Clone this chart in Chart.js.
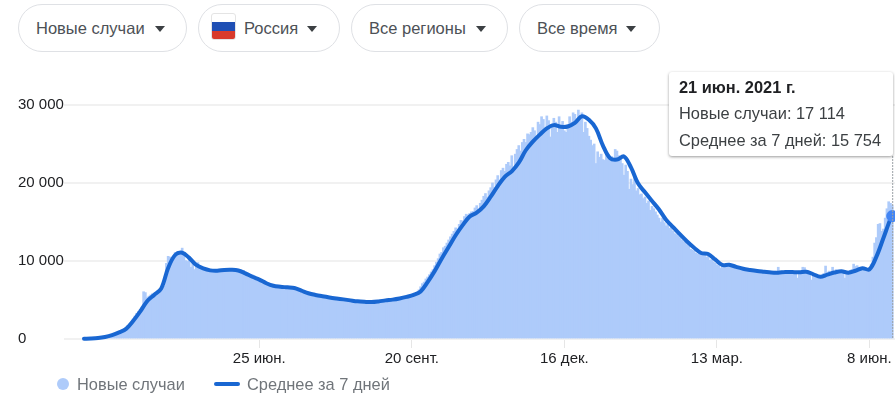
<!DOCTYPE html>
<html lang="ru">
<head>
<meta charset="utf-8">
<title>Новые случаи</title>
<script src="https://cdn.jsdelivr.net/npm/chart.js@4"></script>
<style>
    html, body { margin: 0; padding: 0; background: #fff; overflow: hidden; }
    body { width: 895px; height: 402px; position: relative; font-family: "Liberation Sans", Arial, sans-serif; }
    canvas { position: absolute; left: 0; top: 0; }
    .pill { position: absolute; top: 4px; height: 46px; border: 1px solid #dfe1e5; border-radius: 24px; box-sizing: content-box;
        color: #4d5156; font-size: 16.5px; line-height: 46px; white-space: nowrap; }
    .pill span { position: absolute; top: 0; }
    .pill i { position: absolute; top: 21px; width: 0; height: 0; border-left: 5.5px solid transparent; border-right: 5.5px solid transparent; border-top: 6px solid #3c4043; }
    .flag { position: absolute; left: 12px; top: 8px; width: 25px; height: 27px; border-radius: 3px; border: 1px solid #e4e4e4; box-sizing: border-box;
        background: linear-gradient(#fff 0 33%, #1f4fb4 33% 66%, #d93a2b 66%); }
    #tip { position: absolute; left: 669px; top: 72px; width: 224px; height: 84px; background: #fff; border-radius: 3px; box-shadow: 0 1px 3px rgba(0,0,0,.4);
        font-size: 16.4px; color: #3c4043; }
    #tip div { position: absolute; left: 10px; white-space: nowrap; }
    #tip b { color: #202124; }
    .lg { position: absolute; top: 375px; font-size: 16.4px; line-height: 18px; color: #70757a; white-space: nowrap; }
    .dot { position: absolute; left: 57px; top: 378px; width: 12px; height: 12px; border-radius: 50%; background: #aecbfa; }
    .dash { position: absolute; left: 214px; top: 382px; width: 26px; height: 4px; border-radius: 2px; background: #1967d2; }
</style>
</head>
<body>
<div class="pill" style="left:18px;width:167px"><span style="left:17px">Новые случаи</span><i style="left:136px"></i></div>
<div class="pill" style="left:198px;width:140px"><div class="flag"></div><span style="left:45px">Россия</span><i style="left:108px"></i></div>
<div class="pill" style="left:351px;width:155px"><span style="left:17px">Все регионы</span><i style="left:124px"></i></div>
<div class="pill" style="left:519px;width:139px"><span style="left:17px">Все время</span><i style="left:106px"></i></div>

<canvas id="chart" width="895" height="402"></canvas>

<div id="tip"></div>
<div class="dot"></div><div class="lg" id="lg0" style="left:77px"></div>
<div class="dash"></div><div class="lg" id="lg1" style="left:247px"></div>

<script>
// дни считаем от 17 марта 2020
const seriesNames = ['Новые случаи', 'Среднее за 7 дней'];
const tickDays = [100, 187, 274, 361, 448];
const tickLabels = ['25 июн.', '20 сент.', '16 дек.', '13 мар.', '8 июн.'];
const yTicks = [0, 10000, 20000, 30000];
const hoverDay = 461;
const hoverTitle = '21 июн. 2021 г.';
const hoverValues = ['17 114', '15 754'];

// новые случаи, по дням
const dailyCases = [
    8,15,25,12,35,30,50,65,55,90,95,120,150,180,220,290,380,430,510,590,
    740,900,1050,1170,1450,1750,1790,2180,2560,2950,3300,3550,3800,4100,6060,5950,5300,5500,5650,5800,
    5900,6000,6150,6250,6350,6500,6800,9700,10600,10500,10100,10500,11100,10600,10800,11000,11650,10900,10050,9950,
    10550,9200,9700,8900,9250,9800,9400,9250,8950,8900,8800,8600,8550,8800,8750,8900,8850,8700,8650,8800,
    8850,8950,8850,8750,8900,8850,8950,8800,8850,8650,8700,8800,8600,8550,8400,8300,8250,8150,7950,7800,
    7650,7550,7450,7250,7050,6950,6850,6800,6750,6720,6700,6680,6650,6720,6620,6600,6580,6620,6560,6550,
    6500,6450,6350,6250,6150,6050,5950,5850,5830,5780,5720,5650,5600,5540,5500,5450,5420,5400,5350,5340,
    5300,5280,5240,5200,5190,5150,5120,5100,5080,5050,5000,4970,4950,4930,4890,4860,4840,4810,4790,4780,
    4770,4760,4740,4730,4710,4730,4760,4800,4850,4880,4920,4960,5000,5040,5060,5090,5120,5150,5180,5210,
    5240,5290,5340,5400,5450,5500,5560,5620,5700,5800,6000,6300,6700,7100,7300,7700,7950,8250,8600,8900,
    9400,9850,10300,10900,11100,11700,11900,12300,12700,13100,13450,13800,14250,14100,14700,15200,15150,15700,16000,15900,
    16100,16300,16350,16800,17100,16600,17400,17800,18300,18650,18200,19000,19400,20000,19450,20400,20950,20400,21600,21900,
    21500,22400,22650,22200,23500,21800,23700,24300,24800,24100,25200,25600,25200,26300,26200,26500,27100,26700,26000,27800,
    27500,28500,28150,27100,28600,28000,25900,27300,28300,27800,26500,28500,27250,27900,26700,26500,27500,28500,27800,29000,
    28800,28200,29350,28600,29000,26500,27800,27000,26000,25500,24800,25000,22500,24000,23300,23700,23000,22900,23900,23000,
    23100,23400,23000,24300,24100,23500,23200,22500,21000,22300,21500,19200,20500,19800,20700,19000,19300,18500,18600,18000,
    18200,17400,17700,16500,17000,16700,16300,15900,15500,15000,15500,14900,14500,14700,14200,14400,13800,13500,13400,13200,
    13000,12700,12500,12400,12100,11900,11500,11400,11300,11000,10900,11000,11100,10900,10800,10500,10700,10100,10200,9900,
    9700,9500,9400,9100,9600,9500,9300,9700,9500,9200,9300,9100,9200,9000,8900,9000,8800,8900,8700,8800,
    8800,8700,8650,8700,8500,8800,8600,8450,8600,8700,8300,8650,8500,8400,8700,8500,9200,8550,8450,8700,
    8600,8650,8500,8700,8550,8600,8500,7800,8700,8600,9200,9150,8700,8500,8600,7560,8300,8100,7900,7950,
    8000,8150,8400,9350,8500,8700,8400,9200,8600,8900,8450,8600,8550,8500,7800,8600,8700,8800,8900,9600,
    9300,9400,9200,9100,9050,8950,9100,8900,9100,9600,10500,12300,13000,14700,14800,13800,14100,15500,16700,17600,
    17400,17114
];

// среднее за 7 дней, точки через 4 дня и последний день
const avgDays = [
    0,4,8,12,16,20,24,28,32,36,40,44,48,52,56,60,64,68,72,76,
    80,84,88,92,96,100,104,108,112,116,120,124,128,132,136,140,144,148,152,156,
    160,164,168,172,176,180,184,188,192,196,200,204,208,212,216,220,224,228,232,236,
    240,244,248,252,256,260,264,268,272,276,280,284,288,292,296,300,304,308,312,316,
    320,324,328,332,336,340,344,348,352,356,360,364,368,372,376,380,384,388,392,396,
    400,404,408,412,416,420,424,428,432,436,440,444,448,452,456,460,461
];
const avgCases = [
    40,60,120,260,500,850,1300,2300,3500,4850,5650,6450,9100,10770,11060,10400,9500,9050,8800,8760,
    8850,8870,8780,8420,7980,7620,7150,6820,6700,6620,6530,6200,5870,5650,5480,5330,5200,5080,4950,4830,
    4770,4740,4820,4950,5050,5200,5400,5650,6100,7300,8700,10300,11800,13300,14600,15700,16200,17000,18240,19600,
    20800,21500,22600,24200,25300,26200,27000,27420,27200,27250,27700,28550,28100,27000,24800,23200,23000,23400,22000,19960,
    18800,17700,16600,15300,14350,13400,12500,11700,11030,10900,10200,9500,9520,9250,9000,8850,8720,8620,8520,8500,
    8600,8580,8560,8620,8300,7980,8250,8520,8680,8500,8750,9080,8930,10560,12950,15400,15754
];

document.getElementById('lg0').textContent = seriesNames[0];
document.getElementById('lg1').textContent = seriesNames[1];
document.getElementById('tip').innerHTML =
    '<div style="top:6px"><b>' + hoverTitle + '</b></div>' +
    '<div style="top:32px">' + seriesNames[0] + ': ' + hoverValues[0] + '</div>' +
    '<div style="top:59px">' + seriesNames[1] + ': ' + hoverValues[1] + '</div>';

// пунктир под подсказкой
const hoverLine = {
    id: 'hoverLine',
    afterDatasetsDraw(chart) {
        const c = chart.ctx;
        const x = chart.scales.x.getPixelForValue(hoverDay) + 0.5;
        c.save();
        c.strokeStyle = '#9aa0a6';
        c.setLineDash([2, 1]);
        c.beginPath();
        c.moveTo(x, 156);
        c.lineTo(x, chart.scales.y.bottom);
        c.stroke();
        c.restore();
    }
};

new Chart(document.getElementById('chart'), {
    type: 'bar',
    plugins: [hoverLine],
    data: {
        datasets: [
            {
                type: 'line',
                label: seriesNames[1],
                data: avgDays.map((d, i) => ({ x: d, y: avgCases[i] })),
                borderColor: '#1967d2',
                borderWidth: 4,
                tension: 0.35,
                borderCapStyle: 'round',
                borderJoinStyle: 'round',
                pointRadius: ctx => ctx.raw && ctx.raw.x === hoverDay ? 6 : 0,
                pointBackgroundColor: '#4285f4',
                pointBorderWidth: 0,
                clip: false,
                order: 1
            },
            {
                type: 'bar',
                label: seriesNames[0],
                data: dailyCases.map((v, i) => ({ x: i, y: v })),
                backgroundColor: '#aecbfa',
                barThickness: 2,
                order: 2
            }
        ]
    },
    options: {
        responsive: false,
        animation: false,
        devicePixelRatio: 1,
        layout: { autoPadding: false, padding: { top: 105, left: 18, right: 0, bottom: 0 } },
        plugins: { legend: { display: false }, tooltip: { enabled: false } },
        scales: {
            x: {
                type: 'linear',
                min: -11.41,
                max: 462.6,
                offset: false,
                border: { display: false },
                grid: { offset: false, drawOnChartArea: false, drawTicks: true, tickLength: 9, color: '#e6e6e6' },
                afterBuildTicks: axis => { axis.ticks = tickDays.map(v => ({ value: v })); },
                afterFit: axis => { axis.height = 63; axis.paddingLeft = 0; axis.paddingRight = 0; },
                ticks: {
                    autoSkip: false,
                    maxRotation: 0,
                    padding: 2,
                    color: '#202124',
                    font: { family: '"Liberation Sans"', size: 15 },
                    callback: value => tickLabels[tickDays.indexOf(value)]
                }
            },
            y: {
                min: 0,
                max: 30000,
                border: { display: false },
                grid: { drawTicks: false, color: '#f1f1f1', lineWidth: 2 },
                afterBuildTicks: axis => { axis.ticks = yTicks.map(v => ({ value: v })); },
                afterFit: axis => { axis.width = 46; axis.paddingTop = 0; axis.paddingBottom = 0; },
                ticks: {
                    crossAlign: 'far',
                    padding: 1,
                    color: '#202124',
                    font: { family: '"Liberation Sans"', size: 15 },
                    callback: value => String(value).replace(/\B(?=(\d{3})+$)/g, ' ')
                }
            }
        }
    }
});
</script>
</body>
</html>
